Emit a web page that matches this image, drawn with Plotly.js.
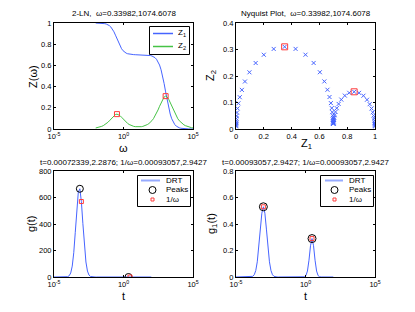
<!DOCTYPE html>
<html><head><meta charset="utf-8">
<script src="https://cdn.plot.ly/plotly-3.0.1.min.js"></script>
<style>html,body{margin:0;padding:0;background:#fff}#plot{width:415px;height:312px}</style>
</head><body><div id="plot"></div>
<script>
// ---- data ----
const omega = [0.01,0.012864,0.016548,0.021288,0.027384,0.035227,0.045316,0.058295,0.074989,0.096466,
0.12409,0.15963,0.20535,0.26416,0.33982,0.43714,0.56234,0.72339,0.93057,1.1971,
1.5399,1.9810,2.5483,3.2781,4.2170,5.4247,6.9783,8.9768,11.548,14.855,
19.110,24.582,31.623,40.679,52.330,67.317,86.596,111.40,143.30,184.34,
237.14,305.05,392.42,504.81,649.38,835.36,1074.6,1382.4,1778.3,2287.6,
2942.7,3785.4,4869.7,6264.3,8058.4,10366,13335,17154,22067,28387,
36517,46976,60430,77737,100000];
const Z1 = [0.99964,0.99942,0.99906,0.99848,0.99754,0.99605,0.99367,0.98991,0.98403,0.97501,
0.96159,0.94250,0.91690,0.88529,0.85000,0.81471,0.78309,0.75749,0.73837,0.72495,
0.71592,0.71002,0.70631,0.70393,0.70243,0.70147,0.70087,0.70047,0.70018,0.69994,
0.69968,0.69936,0.69890,0.69822,0.69716,0.69549,0.69289,0.68882,0.68249,0.67272,
0.65783,0.63559,0.60335,0.55858,0.49992,0.42874,0.35000,0.27124,0.20008,0.14142,
0.09664,0.06440,0.04217,0.02728,0.01751,0.01118,0.00711,0.00452,0.00286,0.00181,
0.00115,0.00073,0.00046,0.00029,0.00018];
const Z2 = [0.00975,0.01238,0.01572,0.01994,0.02527,0.03196,0.04030,0.05057,0.06297,0.07750,
0.09372,0.11042,0.12556,0.13640,0.14041,0.13658,0.12595,0.11102,0.09456,0.07864,
0.06448,0.05251,0.04277,0.03511,0.02926,0.02497,0.02206,0.02036,0.01979,0.02031,
0.02192,0.02472,0.02883,0.03447,0.04189,0.05146,0.06361,0.07885,0.09770,0.12068,
0.14807,0.17963,0.21421,0.24921,0.28034,0.30225,0.31013,0.30215,0.28020,0.24900,
0.21393,0.17924,0.14755,0.12002,0.09684,0.07774,0.06220,0.04965,0.03958,0.03153,
0.02510,0.01998,0.01590,0.01265,0.01006];
const peakOmega = [0.33982, 1074.6];
const peakZ1 = [0.85000, 0.35000];
const peakZ2 = [0.14041, 0.31013];

const tau = [1.0e-5,1.2864e-5,1.6548e-5,2.1288e-5,2.7384e-5,3.5227e-5,4.5316e-5,5.8295e-5,7.4989e-5,9.6466e-5,
1.2409e-4,1.5963e-4,2.0535e-4,2.6416e-4,3.3982e-4,4.3714e-4,5.6234e-4,7.2339e-4,9.3057e-4,1.1971e-3,
1.5399e-3,1.9810e-3,2.5483e-3,3.2781e-3,4.2170e-3,5.4247e-3,6.9783e-3,8.9768e-3,0.011548,0.014855,
0.019110,0.024582,0.031623,0.040679,0.052330,0.067317,0.086596,0.11140,0.14330,0.18434,
0.23714,0.30505,0.39242,0.50481,0.64938,0.83536,1.0746,1.3824,1.7783,2.2876,
2.9427,3.7854,4.8697,6.2643,8.0584,10.366,13.335,17.154,22.067,28.387,
36.517,46.976,60.430,77.737,100];
const gDRT = [0,0,0,0,0,0,0,0,0.53,2.38,
9.35,30.6,82.3,183.2,337.2,512.4,642.8,665.8,569.5,402.3,
234.8,113.1,44.97,14.76,4.01,0.90,0.166,0.026,0.004,0,
0,0,0,0,0,0,0,0,0,0,
0,0,0,0,0.00026,0.00196,0.00983,0.03255,0.07125,0.1031,
0.09855,0.0623,0.026,0.00718,0.00131,0.000158,0.0000127,0,0,0,
0,0,0,0,0];
const g1DRT = [0,0,0,0,0,0,0,0,0.00004,0.00023,
0.00116,0.00488,0.0169,0.0484,0.1146,0.224,0.3615,0.4816,0.53,0.4816,
0.3615,0.224,0.1146,0.0484,0.0169,0.00488,0.00116,0.00023,0.00004,0,
0,0,0,0,0,0,0,0,0,0,
0,0,0,0,0.00017,0.00164,0.01056,0.045,0.1267,0.2358,
0.29,0.2358,0.1267,0.045,0.01056,0.00164,0.00017,0,0,0,
0,0,0,0,0];
const gPeakT = [7.2339e-4, 2.2876];
const gPeakV = [665.8, 0.1031];
const gInvT = [9.3057e-4, 2.9427];
const gInvV = [569.5, 0.09855];
const g1PeakT = [9.3057e-4, 2.9427];
const g1PeakV = [0.53, 0.29];
const g1InvT = [9.3057e-4, 2.9427];
const g1InvV = [0.53, 0.29];

const titles = ['2-LN,\u00a0 \u03c9=0.33982,1074.6078',
  'Nyquist Plot,\u00a0 \u03c9=0.33982,1074.6078',
  't=0.00072339,2.2876; 1/\u03c9=0.00093057,2.9427',
  't=0.00093057,2.9427; 1/\u03c9=0.00093057,2.9427'];
const logTickVals = [1e-5, 1, 1e5];
const logTickText = ['10<sup>-5</sup>','10<sup>0</sup>','10<sup>5</sup>'];

// ---- styling / layout ----
const W = 415, H = 312;
const X = p => p / W, Y = p => 1 - p / H;
const BLUE = 'rgb(70,100,255)', GREEN = 'rgb(70,195,70)', RED = 'rgb(255,60,60)';
const FONT = 'Liberation Sans, Arial, sans-serif';

const traces = [
  {x: omega, y: Z1, xaxis:'x', yaxis:'y', mode:'lines', line:{color:BLUE, width:1}},
  {x: omega, y: Z2, xaxis:'x', yaxis:'y', mode:'lines', line:{color:GREEN, width:1}},
  {x: peakOmega, y: peakZ2, xaxis:'x', yaxis:'y', mode:'markers', marker:{symbol:'square-open', size:5, color:RED, line:{width:1}}},
  {x: Z1, y: Z2, xaxis:'x2', yaxis:'y2', mode:'markers', marker:{symbol:'x-thin-open', size:4, color:BLUE, line:{width:1, color:BLUE}}},
  {x: peakZ1, y: peakZ2, xaxis:'x2', yaxis:'y2', mode:'markers', marker:{symbol:'square-open', size:6, color:RED, line:{width:1}}},
  {x: tau, y: gDRT, xaxis:'x3', yaxis:'y3', mode:'lines', line:{color:BLUE, width:1}},
  {x: gPeakT, y: gPeakV, xaxis:'x3', yaxis:'y3', mode:'markers', marker:{symbol:'circle-open', size:7, color:'black', line:{width:1}}},
  {x: gInvT, y: gInvV, xaxis:'x3', yaxis:'y3', mode:'markers', marker:{symbol:'square-open', size:4, color:RED, line:{width:1}}},
  {x: tau, y: g1DRT, xaxis:'x4', yaxis:'y4', mode:'lines', line:{color:BLUE, width:1}},
  {x: g1PeakT, y: g1PeakV, xaxis:'x4', yaxis:'y4', mode:'markers', marker:{symbol:'circle-open', size:8, color:'black', line:{width:1}}},
  {x: g1InvT, y: g1InvV, xaxis:'x4', yaxis:'y4', mode:'markers', marker:{symbol:'square-open', size:4, color:RED, line:{width:1}}}
];

const ax = (domain, extra) => Object.assign({
  domain: domain, showline:true, linecolor:'black', linewidth:1, mirror:'ticks',
  ticks:'inside', ticklen:2, tickcolor:'black', showgrid:false, zeroline:false,
  tickfont:{family:FONT, size:7.5, color:'black'}, fixedrange:true
}, extra);
const logX = d => ax(d, {type:'log', range:[-5,5], tickmode:'array', tickvals:logTickVals, ticktext:logTickText});

const dxL = [X(54), X(193)], dxR = [X(236), X(375)];
const dyT = [Y(129), Y(23)], dyB = [Y(277), Y(171)];

const ann = (text, px, py, opts) => Object.assign({
  text: text, x: X(px), y: Y(py), xref:'paper', yref:'paper', showarrow:false,
  xanchor:'center', yanchor:'middle', font:{family:FONT, size:8, color:'black'}
}, opts || {});

const annotations = [
  ann(titles[0], 123.5, 14), ann(titles[1], 305.5, 14),
  ann(titles[2], 123.5, 162.5), ann(titles[3], 305.5, 162.5),
  ann('Z(\u03c9)', 33, 77, {textangle:-90, font:{family:FONT, size:11, color:'black'}}),
  ann('\u03c9', 123.5, 148, {font:{family:FONT, size:11, color:'black'}}),
  ann('Z<sub>2</sub>', 211, 76, {textangle:-90, font:{family:FONT, size:11, color:'black'}}),
  ann('Z<sub>1</sub>', 306, 144, {font:{family:FONT, size:11, color:'black'}}),
  ann('g(t)', 31, 224, {textangle:-90, font:{family:FONT, size:11, color:'black'}}),
  ann('t', 123.5, 296, {font:{family:FONT, size:11, color:'black'}}),
  ann('g<sub>1</sub>(t)', 212, 224, {textangle:-90, font:{family:FONT, size:11, color:'black'}}),
  ann('t', 305.5, 296, {font:{family:FONT, size:11, color:'black'}}),
  // legends
  ann('Z<sub>1</sub>', 176, 33, {xanchor:'left'}),
  ann('Z<sub>2</sub>', 176, 46, {xanchor:'left'}),
  ann('DRT', 164, 180.5, {xanchor:'left'}),
  ann('Peaks', 164, 190, {xanchor:'left'}),
  ann('1/\u03c9', 164, 199.5, {xanchor:'left'}),
  ann('DRT', 347, 180.5, {xanchor:'left'}),
  ann('Peaks', 347, 190, {xanchor:'left'}),
  ann('1/\u03c9', 347, 199.5, {xanchor:'left'})
];

const rect = (x0,y0,x1,y1,color,fill) => ({type:'rect', xref:'paper', yref:'paper', x0:X(x0), x1:X(x1), y0:Y(y1), y1:Y(y0), line:{color:color, width:1}, fillcolor:fill||'rgba(0,0,0,0)', layer:'above'});
const seg = (x0,y0,x1,y1,color,w) => ({type:'line', xref:'paper', yref:'paper', x0:X(x0), x1:X(x1), y0:Y(y0), y1:Y(y1), line:{color:color, width:w||1}, layer:'above'});
const circ = (cx,cy,r,color) => ({type:'circle', xref:'paper', yref:'paper', x0:X(cx-r), x1:X(cx+r), y0:Y(cy+r), y1:Y(cy-r), line:{color:color, width:1}, layer:'above'});

const shapes = [
  rect(149.5,26.5,189.5,54.5,'black','white'),
  seg(153,33.5,173,33.5,BLUE,1.5), seg(153,46.5,173,46.5,GREEN,1.5),
  rect(137.5,175.5,190.5,206.5,'black','white'),
  seg(141,180.5,160,180.5,'rgb(150,170,255)',2),
  circ(152.5,190,3.5,'black'), rect(151,198,154,201,RED),
  rect(320.5,175.5,373.5,206.5,'black','white'),
  seg(325,180.5,343,180.5,'rgb(150,170,255)',2),
  circ(334.5,190,3.5,'black'), rect(333,198,336,201,RED)
];

const layout = {
  width: W, height: H, margin:{l:0,r:0,t:0,b:0,pad:0},
  paper_bgcolor:'white', plot_bgcolor:'white', showlegend:false,
  font:{family:FONT, size:8, color:'black'},
  xaxis: logX(dxL), yaxis: ax(dyT, {anchor:'x', range:[0,1], dtick:0.2}),
  xaxis2: ax(dxR, {anchor:'y2', range:[0,1], dtick:0.2}), yaxis2: ax(dyT, {anchor:'x2', range:[0,0.4], dtick:0.1}),
  xaxis3: Object.assign(logX(dxL), {anchor:'y3'}), yaxis3: ax(dyB, {anchor:'x3', range:[0,800], dtick:200}),
  xaxis4: Object.assign(logX(dxR), {anchor:'y4'}), yaxis4: ax(dyB, {anchor:'x4', range:[0,0.8], dtick:0.2}),
  annotations: annotations, shapes: shapes
};
layout.xaxis.anchor = 'y';

Plotly.newPlot('plot', traces, layout, {staticPlot:true, displayModeBar:false});
</script></body></html>
